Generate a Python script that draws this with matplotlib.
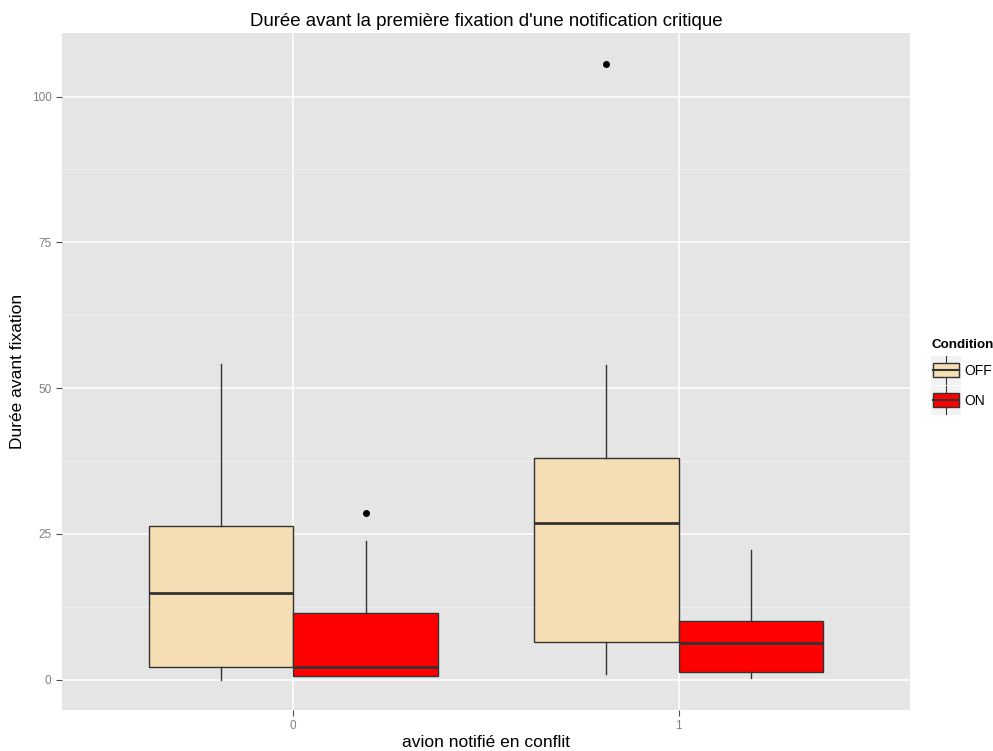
import matplotlib
matplotlib.use("Agg")
import matplotlib.pyplot as plt
from matplotlib.patches import Patch
from matplotlib.legend_handler import HandlerBase
from matplotlib.patches import Rectangle
from matplotlib.lines import Line2D

# données
groupes = ["0", "1"]
conditions = ["OFF", "ON"]
couleurs = ["#F5DEB3", "#FF0000"]

# [groupe][condition]
w_bas = [[0.0, 0.6], [1.0, 0.3]]
q1 = [[2.1, 0.7], [6.5, 1.4]]
mediane = [[14.8, 2.2], [26.9, 6.3]]
q3 = [[26.3, 11.5], [38.1, 10.1]]
w_haut = [[54.2, 23.8], [53.9, 22.3]]
aberrants = [[[], [28.6]], [[105.6], []]]

plt.rcParams['font.family'] = ['Liberation Sans', 'DejaVu Sans']

fig = plt.figure(figsize=(9.93, 7.51), dpi=100)
ax = fig.add_axes([0.0624, 0.0546, 0.854, 0.9014])
ax.set_facecolor("#E5E5E5")

largeur = 0.375
for i, g in enumerate(groupes):
    for j, c in enumerate(conditions):
        pos = i + 1 + (j - 0.5) * largeur
        stats = [{
            "whislo": w_bas[i][j], "q1": q1[i][j], "med": mediane[i][j],
            "q3": q3[i][j], "whishi": w_haut[i][j], "fliers": aberrants[i][j],
        }]
        ax.bxp(stats, positions=[pos], widths=largeur, patch_artist=True,
               showcaps=False,
               boxprops=dict(facecolor=couleurs[j], edgecolor="#333333", linewidth=1.0),
               medianprops=dict(color="#333333", linewidth=2.0),
               whiskerprops=dict(color="#333333", linewidth=1.0),
               flierprops=dict(marker="o", markersize=4, markerfacecolor="black",
                               markeredgecolor="black"),
               zorder=3)

ax.set_xlim(0.4, 2.6)
ax.set_ylim(-5.2, 110.9)
ax.set_xticks([1, 2])
ax.set_xticklabels(groupes)
ax.set_yticks([0, 25, 50, 75, 100])
ax.set_yticks([12.5, 37.5, 62.5, 87.5], minor=True)
ax.set_xticks([], minor=True)
ax.grid(True, which="major", color="white", linewidth=1.1, zorder=0)
ax.grid(True, which="minor", axis="y", color="#F2F2F2", linewidth=0.6, zorder=0)
ax.set_axisbelow(True)
for s in ax.spines.values():
    s.set_visible(False)
ax.tick_params(axis="both", which="major", colors="#4D4D4D", labelsize=8.5, length=4, width=0.8)
ax.tick_params(axis="both", which="minor", length=0)
ax.tick_params(axis="both", labelcolor="#7F7F7F")

ax.set_title("Durée avant la première fixation d'une notification critique", fontsize=13.4, pad=5)
ax.set_xlabel("avion notifié en conflit", fontsize=12.5, labelpad=2)
ax.set_ylabel("Durée avant fixation", fontsize=12.5, labelpad=5)


class BoiteHandler(HandlerBase):
    def create_artists(self, legend, orig, xd, yd, w, h, fontsize, trans):
        x0 = -xd
        cy = -yd + h / 2
        cx = x0 + w / 2
        bg = Rectangle((x0, cy - 10.5), w, 21, facecolor="#F2F2F2",
                       edgecolor="none", transform=trans)
        r = Rectangle((x0 + 1.2, cy - 5), w - 2.4, 10, facecolor=orig.get_facecolor(),
                      edgecolor="#333333", linewidth=1.0, transform=trans)
        m = Line2D([x0 + 1.2, x0 + w - 1.2], [cy, cy], color="#333333",
                   linewidth=1.5, transform=trans)
        t = Line2D([cx, cx], [cy + 5, cy + 10], color="#333333",
                   linewidth=0.8, transform=trans)
        b = Line2D([cx, cx], [cy - 5, cy - 10], color="#333333",
                   linewidth=0.8, transform=trans)
        return [bg, r, m, t, b]


poignees = [Patch(facecolor=couleurs[k]) for k in range(2)]
leg = fig.legend(poignees, conditions, title="Condition", loc="center left",
                 bbox_to_anchor=(0.938, 0.5), frameon=False, fontsize=10,
                 title_fontproperties={"weight": "bold", "size": 9.6},
                 handler_map={Patch: BoiteHandler()}, handlelength=2.1,
                 handleheight=2.1, labelspacing=0.55, handletextpad=0.25,
                 borderpad=0.0, borderaxespad=0.0)
leg._legend_box.align = "left"

fig.savefig("out.png", dpi=100)
